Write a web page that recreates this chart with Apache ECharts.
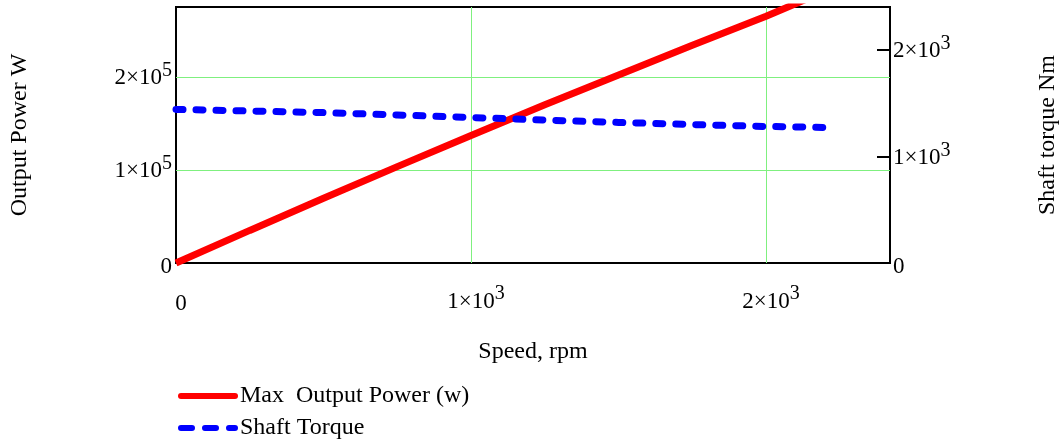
<!DOCTYPE html>
<html>
<head>
<meta charset="utf-8">
<script src="https://cdn.jsdelivr.net/npm/echarts@6/dist/echarts.min.js"></script>
<style>
  html, body { margin: 0; padding: 0; background: #fff; }
  #main { width: 1060px; height: 444px; }
</style>
</head>
<body>
<div id="main"></div>
<script>
// speed in rpm (x values for both curves)
const speed = [0, 250, 500, 750, 1000, 1250, 1500, 1750, 2000, 2200];
// max output power, W (left axis) - runs off the top of the plot near 2100 rpm
const outputPower = [0, 35000, 69500, 103500, 137000, 170000, 202000, 234000, 265000, 292000];
// shaft torque, Nm (right axis)
const shaftTorque = [1440, 1425, 1410, 1388, 1364, 1340, 1318, 1298, 1280, 1271];

const xTicks = [0, 1000, 2000];
const powerTicks = [0, 100000, 200000];
const torqueTicks = [0, 1000, 2000];

const FONT = 'Liberation Serif';
const GRIDGREEN = '#7ff07f';

// 2×10^5 style label, superscript as its own rich token
function sciLabel(v) {
    if (v === 0) return '{z|0}';
    const exp = Math.floor(Math.log10(v));
    const mant = Math.round(v / Math.pow(10, exp));
    return '{n|' + mant + '×10}{s|' + exp + '}';
}

function tickFormatter(ticks) {
    return function (v) {
        if (ticks.indexOf(v) === -1) return '';
        return sciLabel(v);
    };
}

const richText = {
    n: { fontFamily: FONT, fontSize: 23, color: '#000', lineHeight: 26, verticalAlign: 'bottom' },
    z: { fontFamily: FONT, fontSize: 23, color: '#000', lineHeight: 26, padding: [8, 0, 0, 0] },
    s: { fontFamily: FONT, fontSize: 20, color: '#000', lineHeight: 26, verticalAlign: 'bottom', padding: [0, 0, 9, 0] }
};

let chart = echarts.init(document.getElementById('main'), null, { renderer: 'canvas' });

let option = {
    animation: false,
    textStyle: { fontFamily: FONT },
    grid: {
        left: 176, right: 170, top: 7, bottom: 181,
        outerBoundsMode: 'none',
        containLabel: false,
        show: true, borderColor: '#000', borderWidth: 2, backgroundColor: 'transparent'
    },
    legend: {
        left: 178, top: 384,
        orient: 'vertical',
        padding: 0,
        itemWidth: 54, itemHeight: 14, itemGap: 8,
        textStyle: { fontFamily: FONT, fontSize: 24, color: '#000' },
        itemStyle: { opacity: 0 },
        data: [
            { name: 'Max  Output Power (w)', lineStyle: { width: 6, cap: 'round' } },
            { name: 'Shaft Torque', lineStyle: { width: 6, type: [11, 13], cap: 'round' } }
        ]
    },
    xAxis: {
        type: 'value',
        min: 0, max: 2420, interval: 1000,
        name: 'Speed, rpm', nameLocation: 'middle', nameGap: 77,
        nameTextStyle: { fontFamily: FONT, fontSize: 24, color: '#000' },
        axisLine: { show: false },
        axisTick: { show: false },
        axisLabel: { margin: 24, padding: [0, 0, 0, 10], formatter: tickFormatter(xTicks), rich: richText, color: '#000' },
        splitLine: { show: true, showMinLine: false, showMaxLine: false, lineStyle: { color: GRIDGREEN, width: 1 } }
    },
    yAxis: [
        {
            type: 'value', position: 'left',
            min: 0, max: 275000, interval: 100000,
            name: 'Output Power W', nameLocation: 'middle', nameGap: 144,
            nameTextStyle: { fontFamily: FONT, fontSize: 24, color: '#000' },
            axisLine: { show: false },
            axisTick: { show: false },
            axisLabel: { margin: 4, formatter: tickFormatter(powerTicks), rich: richText, color: '#000' },
            splitLine: { show: true, showMinLine: false, showMaxLine: false, lineStyle: { color: GRIDGREEN, width: 1 } }
        },
        {
            type: 'value', position: 'right',
            min: 0, max: 2400, interval: 1000,
            name: 'Shaft torque Nm', nameLocation: 'middle', nameGap: 146,
            nameTextStyle: { fontFamily: FONT, fontSize: 24, color: '#000' },
            axisLine: { show: false },
            axisTick: { show: true, inside: true, length: 13, customValues: [1000, 2000], lineStyle: { color: '#000', width: 2 } },
            axisLabel: { margin: 3, formatter: tickFormatter(torqueTicks), rich: richText, color: '#000' },
            splitLine: { show: false }
        }
    ],
    series: [
        {
            name: 'Max  Output Power (w)',
            type: 'line',
            yAxisIndex: 0,
            data: speed.map((s, i) => [s, outputPower[i]]),
            showSymbol: false, symbol: 'none',
            clip: true,
            lineStyle: { color: '#ff0000', width: 7 },
            itemStyle: { color: '#ff0000' }
        },
        {
            name: 'Shaft Torque',
            type: 'line',
            yAxisIndex: 1,
            data: speed.map((s, i) => [s, shaftTorque[i]]),
            showSymbol: false, symbol: 'none',
            lineStyle: { color: '#0000ff', width: 7, type: [7, 13], cap: 'round' },
            itemStyle: { color: '#0000ff' }
        }
    ]
};

chart.setOption(option);
</script>
</body>
</html>
